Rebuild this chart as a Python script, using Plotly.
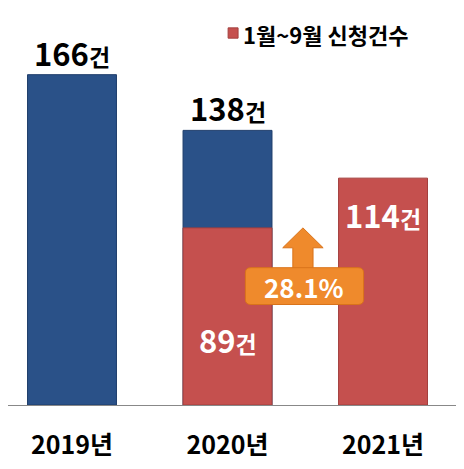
import plotly.graph_objects as go

years = ["2019년", "2020년", "2021년"]
total_counts = [166, 138, None]
jan_sep_counts = [None, 89, 114]
legend_name = "1월~9월 신청건수"
growth_label = "28.1%"

BLUE = "#2A5188"
RED = "#C5504E"
ORANGE = "#EF8A2C"
FONT = "Noto Sans CJK KR"

x = list(range(len(years)))

fig = go.Figure()

fig.add_trace(
    go.Bar(
        x=x, y=total_counts, width=0.572, showlegend=False,
        marker=dict(color=BLUE, line=dict(color="#1F3E6B", width=1)),
    )
)
fig.add_trace(
    go.Bar(
        x=x, y=jan_sep_counts, width=0.572, showlegend=False, name=legend_name,
        marker=dict(color=RED, line=dict(color="#A33F3D", width=1)),
    )
)


def count_label(value):
    return "<b>%d<span style='font-size:23px'>건</span></b>" % value


# value labels: totals above bars (black), Jan-Sep inside red bars (white)
for i, v in enumerate(total_counts):
    if v is not None:
        fig.add_annotation(
            x=x[i], y=v, yanchor="bottom", yshift=-2, text=count_label(v),
            showarrow=False, font=dict(family=FONT, size=31, color="black"),
        )
label_offsets = {1: 0.37, 2: 0.84}
for i, v in enumerate(jan_sep_counts):
    if v is not None:
        fig.add_annotation(
            x=x[i], y=v * label_offsets[i], yanchor="middle", text=count_label(v),
            showarrow=False, font=dict(family=FONT, size=31, color="white"),
        )

# legend drawn by hand: small red square + bold text
fig.add_shape(
    type="rect", xref="paper", yref="paper", x0=0.487, x1=0.509, y0=0.924, y1=0.950,
    fillcolor=RED, line=dict(color="#A33F3D", width=1),
)
fig.add_annotation(
    xref="paper", yref="paper", x=0.515, y=0.934, xanchor="left", yanchor="middle",
    text="<b>" + legend_name + "</b>", showarrow=False,
    font=dict(family=FONT, size=22, color="black"),
)

# growth arrow between 2020 and 2021 (Jan-Sep)
tip = jan_sep_counts[1]
ax = 1.485
fig.add_shape(
    type="path",
    path="M %f %f L %f %f L %f %f L %f %f L %f %f L %f %f L %f %f Z" % (
        ax, tip, ax + 0.13, tip - 10, ax + 0.065, tip - 10, ax + 0.065, 66,
        ax - 0.065, 66, ax - 0.065, tip - 10, ax - 0.13, tip - 10,
    ),
    fillcolor=ORANGE, line=dict(color="#D9731A", width=1), layer="above",
)
bx0, bx1, by0, by1, rx, ry = 1.115, 1.875, 50.5, 69.0, 0.035, 2.6
fig.add_shape(
    type="path",
    path=(
        "M %f %f L %f %f Q %f %f %f %f L %f %f Q %f %f %f %f "
        "L %f %f Q %f %f %f %f L %f %f Q %f %f %f %f Z"
    ) % (
        bx0 + rx, by0, bx1 - rx, by0, bx1, by0, bx1, by0 + ry,
        bx1, by1 - ry, bx1, by1, bx1 - rx, by1,
        bx0 + rx, by1, bx0, by1, bx0, by1 - ry,
        bx0, by0 + ry, bx0, by0, bx0 + rx, by0,
    ),
    fillcolor=ORANGE, line=dict(color="#D9731A", width=1), layer="above",
)
fig.add_annotation(
    x=1.495, y=59.8, text="<b>" + growth_label + "</b>", showarrow=False,
    font=dict(family=FONT, size=26, color="white"),
)

fig.update_layout(
    width=456, height=461,
    margin=dict(l=0, r=4, t=0, b=64, autoexpand=False),
    barmode="overlay",
    plot_bgcolor="white", paper_bgcolor="white",
    font=dict(family=FONT),
    showlegend=False,
    xaxis=dict(
        range=[-0.4116, 2.495], tickmode="array", tickvals=x,
        ticktext=["<b>%s</b>" % y for y in years],
        tickfont=dict(family=FONT, size=25, color="black"),
        showgrid=False, zeroline=False, showline=True, automargin=False,
        linecolor="#888888", linewidth=1, ticks="", ticklen=0,
    ),
    yaxis=dict(range=[0, 199.5], visible=False, automargin=False),
)
fig.update_xaxes(ticklabelstandoff=18)

fig.write_html("out.html")
